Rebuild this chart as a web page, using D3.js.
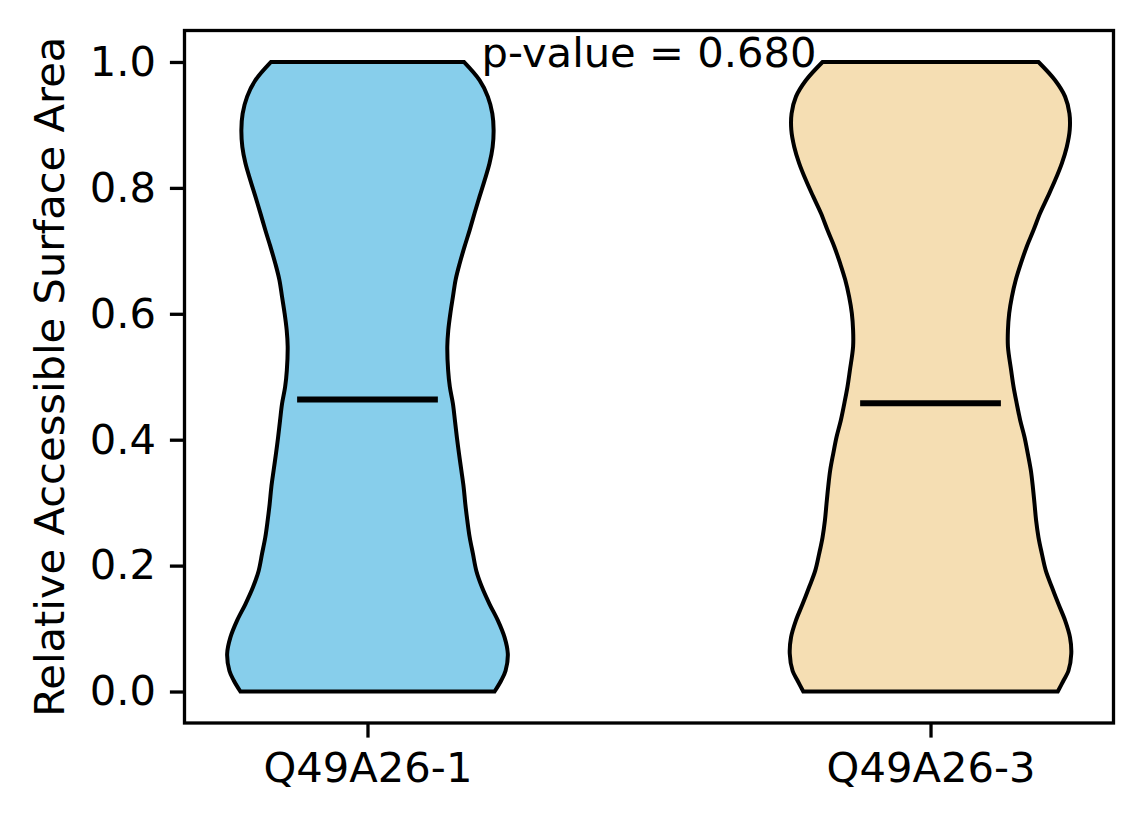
<!DOCTYPE html>
<html>
<head>
<meta charset="utf-8">
<script src="https://cdn.jsdelivr.net/npm/d3@7"></script>
<style>
  body { margin: 0; background: #fff; }
  svg { display: block; }
  text { font-family: "DejaVu Sans", sans-serif; fill: #000; }
</style>
</head>
<body>
<div id="chart"></div>
<script>
// groups shown on the x axis
const categories = ["Q49A26-1", "Q49A26-3"];
const colors = ["#87ceeb", "#f5deb3"];

const grid = [0, 0.0175, 0.033, 0.06, 0.086, 0.113, 0.139, 0.166, 0.192, 0.219,
  0.245, 0.272, 0.298, 0.325, 0.351, 0.378, 0.404, 0.431, 0.457, 0.484,
  0.51, 0.548, 0.574, 0.601, 0.627, 0.654, 0.68, 0.707, 0.733, 0.76,
  0.786, 0.812, 0.839, 0.865, 0.892, 0.918, 0.945, 0.971, 1.0];

// relative density (max = 1) for each violin
const density1 = [0.903, 0.950, 0.981, 0.997, 0.974, 0.926, 0.867, 0.813, 0.773, 0.749,
  0.726, 0.709, 0.695, 0.683, 0.667, 0.650, 0.635, 0.621, 0.607, 0.585,
  0.573, 0.567, 0.574, 0.589, 0.607, 0.626, 0.655, 0.690, 0.726, 0.761,
  0.796, 0.832, 0.867, 0.889, 0.896, 0.887, 0.855, 0.796, 0.685];
const density2 = [0.904, 0.945, 0.980, 1.000, 0.991, 0.956, 0.909, 0.862, 0.819, 0.791,
  0.767, 0.750, 0.739, 0.727, 0.713, 0.691, 0.668, 0.637, 0.613, 0.590,
  0.573, 0.550, 0.550, 0.559, 0.578, 0.606, 0.642, 0.684, 0.732, 0.779,
  0.833, 0.885, 0.933, 0.968, 0.989, 0.987, 0.956, 0.885, 0.767];

const medians = [0.464, 0.458];
const yTicks = [0.0, 0.2, 0.4, 0.6, 0.8, 1.0];
const pValueLabel = "p-value = 0.680";
const yLabel = "Relative Accessible Surface Area";

const width = 1144, height = 824;
const margin = {top: 30.5, right: 30.5, bottom: 101, left: 184.5};
const violinWidth = 0.5;   // like matplotlib's widths=0.5

const svg = d3.select("#chart").append("svg")
    .attr("width", width)
    .attr("height", height);

const x = d3.scaleLinear()
    .domain([-0.325, 1.325])
    .range([margin.left, width - margin.right]);
const y = d3.scaleLinear()
    .domain([-0.05, 1.05])
    .range([height - margin.bottom, margin.top]);
const halfW = d3.scaleLinear().domain([0, 1]).range([0, violinWidth / 2]);

const series = [density1, density2];

// violins
series.forEach((dens, i) => {
  const pts = grid.map((v, j) => ({v: v, d: dens[j]}));
  const area = d3.area()
      .y(p => y(p.v))
      .x0(p => x(i - halfW(p.d)))
      .x1(p => x(i + halfW(p.d)))
      .curve(d3.curveCatmullRom);
  svg.append("path")
      .datum(pts)
      .attr("d", area)
      .attr("fill", colors[i])
      .attr("stroke", "#000")
      .attr("stroke-width", 4)
      .attr("stroke-linejoin", "miter");
});

// median lines
svg.selectAll(".median")
  .data(medians)
  .enter()
  .append("line")
    .attr("x1", (d, i) => x(i - violinWidth / 4))
    .attr("x2", (d, i) => x(i + violinWidth / 4))
    .attr("y1", d => y(d))
    .attr("y2", d => y(d))
    .attr("stroke", "#000")
    .attr("stroke-width", 6);

// axes
const yAxis = svg.append("g")
    .attr("transform", `translate(${margin.left},0)`)
    .call(d3.axisLeft(y).tickValues(yTicks).tickFormat(d3.format(".1f"))
      .tickSize(14.6).tickPadding(14));
const xAxis = svg.append("g")
    .attr("transform", `translate(0,${height - margin.bottom})`)
    .call(d3.axisBottom(x).tickValues([0, 1]).tickFormat((d, i) => categories[i])
      .tickSize(14.6).tickPadding(15));

[yAxis, xAxis].forEach(g => {
  g.select(".domain").remove();
  g.selectAll(".tick line").attr("stroke", "#000").attr("stroke-width", 3.3);
  g.selectAll(".tick text")
    .attr("font-family", "DejaVu Sans")
    .attr("font-size", 41.67)
    .attr("fill", "#000");
});

// frame
svg.append("rect")
    .attr("x", margin.left)
    .attr("y", margin.top)
    .attr("width", width - margin.left - margin.right)
    .attr("height", height - margin.top - margin.bottom)
    .attr("fill", "none")
    .attr("stroke", "#000")
    .attr("stroke-width", 3.3);

// p-value annotation
svg.append("text")
    .attr("x", x(0.5))
    .attr("y", 67)
    .attr("text-anchor", "middle")
    .attr("font-size", 41.67)
    .text(pValueLabel);

// y label
svg.append("text")
    .attr("transform", `translate(63.5,${(margin.top + height - margin.bottom) / 2}) rotate(-90)`)
    .attr("text-anchor", "middle")
    .attr("font-size", 41.67)
    .text(yLabel);
</script>
</body>
</html>
